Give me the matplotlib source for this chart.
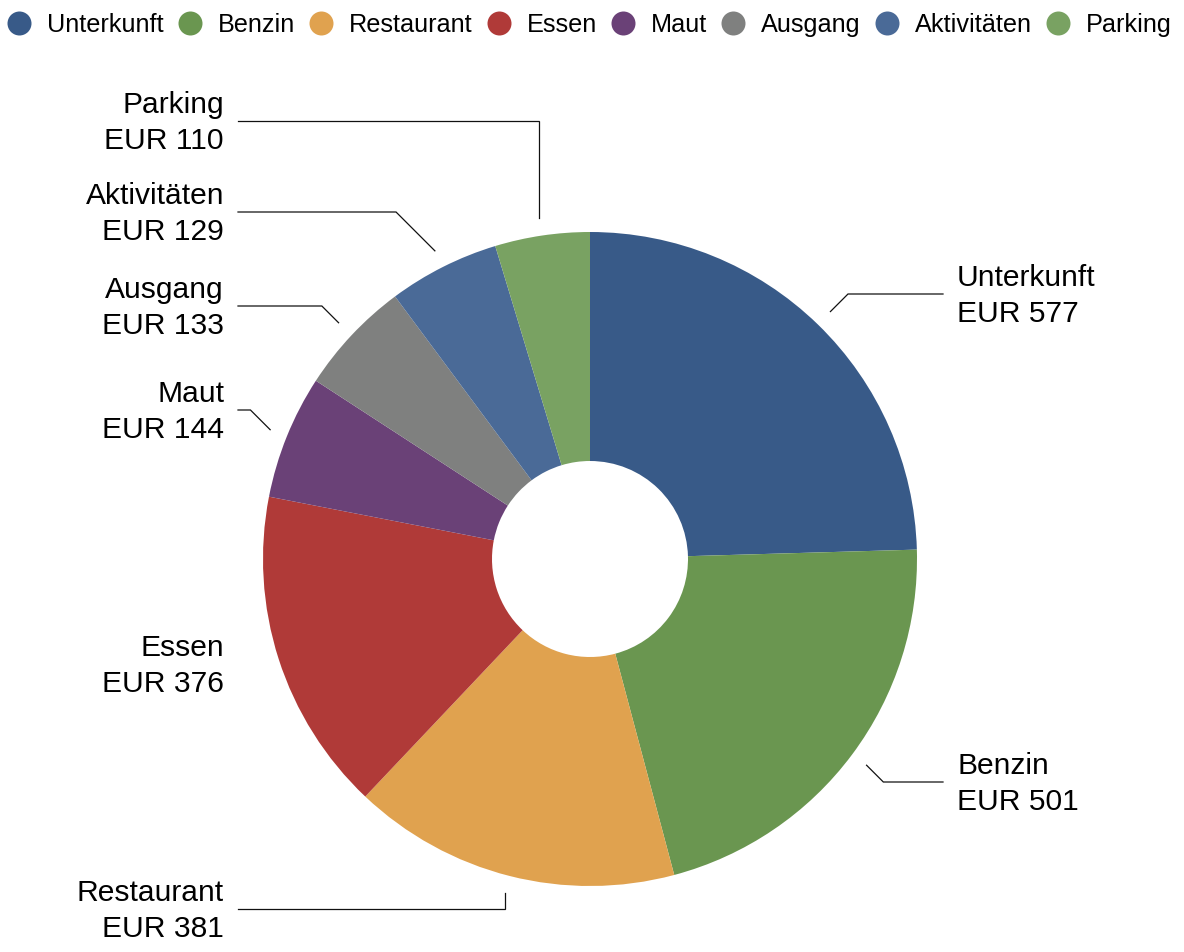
import numpy as np
import matplotlib
matplotlib.use("Agg")
import matplotlib.pyplot as plt

# ---- data ----
categories = ["Unterkunft", "Benzin", "Restaurant", "Essen", "Maut", "Ausgang", "Aktivitäten", "Parking"]
values = [577, 501, 381, 376, 144, 133, 129, 110]
currency = "EUR"

# ---- style / layout ----
colors = ["#385a88", "#6a9650", "#e0a24f", "#b03a38", "#6a4177", "#7f807f", "#4a6a97", "#79a262"]
W, H = 1184, 952
CX, CY = 590, 559          # pixel centre of the donut
R_OUT, R_IN = 327, 98
R_LINE = 345
LABEL_Y = [294, 782, 909, 664, 410, 306, 212, 121]   # pixel y of each label block
SHOW_LINE = [True, True, True, False, True, True, True, True]
RIGHT_X, LEFT_X = 957, 224
GAP = 14
FONT = "Liberation Sans"
LABEL_FS = 21.6
LEGEND_FS = 18.2

fig = plt.figure(figsize=(W / 100, H / 100), dpi=100)
ax = fig.add_axes([0, 0, 1, 1])


def Y(py):
    return H - py


ax.pie(values, colors=colors, startangle=90, counterclock=False,
       radius=R_OUT, center=(CX, Y(CY)),
       wedgeprops=dict(width=R_OUT - R_IN, linewidth=0))
ax.set_xlim(0, W)
ax.set_ylim(0, H)
ax.set_aspect("equal")
ax.axis("off")

total = float(sum(values))
cum = np.cumsum([0] + values[:-1])
for i, (cat, v) in enumerate(zip(categories, values)):
    frac_mid = (cum[i] + v / 2.0) / total
    th = 2 * np.pi * frac_mid
    s, c = np.sin(th), np.cos(th)
    sx, sy = CX + R_LINE * s, CY - R_LINE * c
    ly = LABEL_Y[i]
    right = s > 0
    ex = (RIGHT_X - GAP) if right else (LEFT_X + GAP)
    if SHOW_LINE[i]:
        if abs(s) < 0.3:
            bx = sx
        else:
            d = abs(ly - sy)
            bx = sx + d if right else sx - d
        ax.plot([sx, bx, ex], [Y(sy), Y(ly), Y(ly)], color="#111111", lw=0.9,
                solid_joinstyle="miter")
    tx = RIGHT_X if right else LEFT_X
    ax.text(tx, Y(ly + 2), f"{cat}\n{currency} {v}", ha="left" if right else "right",
            va="center", multialignment="left" if right else "right",
            fontsize=LABEL_FS, family=FONT, linespacing=1.36, color="black")

# ---- legend (manual, single row) ----
fig.canvas.draw()
renderer = fig.canvas.get_renderer()
x = 7
ly = 23
base = 32
D = 24
for cat, col in zip(categories, colors):
    ax.scatter([x + D / 2], [Y(ly)], s=(D * 0.72) ** 2, color=col, linewidths=0, zorder=5)
    t = ax.text(x + D + 16, Y(base), cat, ha="left", va="baseline",
                fontsize=LEGEND_FS, family=FONT, color="black")
    bb = t.get_window_extent(renderer)
    x = x + D + 16 + bb.width + 14

fig.savefig("out.png", dpi=100)
